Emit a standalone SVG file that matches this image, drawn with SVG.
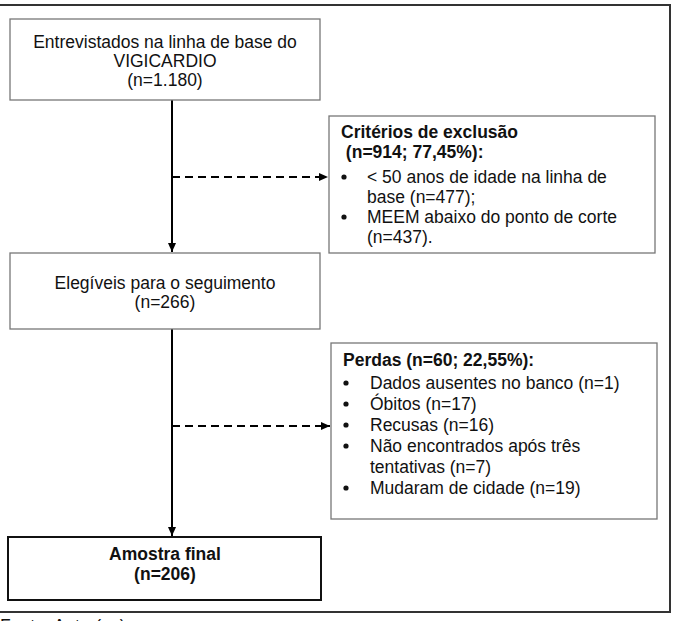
<svg xmlns="http://www.w3.org/2000/svg" width="674" height="621" viewBox="0 0 674 621">
<defs>
<marker id="ah" markerWidth="10" markerHeight="10" refX="9" refY="5" orient="auto" markerUnits="userSpaceOnUse">
<path d="M0,1 L9,5 L0,9 Z" fill="#000"/>
</marker>
<style>
text{font-family:"Liberation Sans",Arial,sans-serif;font-size:17.5px;fill:#111}
.c{text-anchor:middle}
.b{font-weight:bold}
.box{fill:#fff;stroke:#777;stroke-width:1.3}
.fin{fill:#fff;stroke:#111;stroke-width:2}
.ln{stroke:#000;stroke-width:2;fill:none}
.dash{stroke:#000;stroke-width:2;fill:none;stroke-dasharray:8 5}
</style>
</defs>
<rect width="674" height="621" fill="#fff"/>
<path d="M0,5 H670 V612 H0" fill="none" stroke="#333" stroke-width="2"/>
<text x="0" y="632" font-size="15">Fonte: Autor(es).</text>

<g id="connectors">
<line class="ln" x1="172" y1="100" x2="172" y2="252" marker-end="url(#ah)"/>
<line class="dash" x1="172" y1="177" x2="328" y2="177" marker-end="url(#ah)"/>
<line class="ln" x1="172" y1="329" x2="172" y2="536" marker-end="url(#ah)"/>
<line class="dash" x1="172" y1="426" x2="330" y2="426" marker-end="url(#ah)"/>
</g>

<g id="n1">
<rect class="box" x="10" y="19" width="310" height="81"/>
<text class="c" x="165" y="48">Entrevistados na linha de base do</text>
<text class="c" x="165" y="67">VIGICARDIO</text>
<text class="c" x="165" y="86">(n=1.180)</text>
</g>

<g id="n2">
<rect class="box" x="329" y="116" width="326" height="137"/>
<text class="b" x="341" y="138">Critérios de exclusão</text>
<text class="b" x="341" y="158" xml:space="preserve"> (n=914; 77,45%):</text>
<circle cx="344" cy="177" r="2.6" fill="#111"/>
<text x="367" y="183">&lt; 50 anos de idade na linha de</text>
<text x="367" y="203">base (n=477);</text>
<circle cx="344" cy="217" r="2.6" fill="#111"/>
<text x="367" y="223">MEEM abaixo do ponto de corte</text>
<text x="367" y="243">(n=437).</text>
</g>

<g id="n3">
<rect class="box" x="10" y="253" width="310" height="76"/>
<text class="c" x="165" y="289">Elegíveis para o seguimento</text>
<text class="c" x="165" y="308">(n=266)</text>
</g>

<g id="n4">
<rect class="box" x="331" y="343" width="326" height="176"/>
<text class="b" x="343" y="366">Perdas (n=60; 22,55%):</text>
<circle cx="346" cy="383" r="2.6" fill="#111"/>
<text x="370" y="389">Dados ausentes no banco (n=1)</text>
<circle cx="346" cy="404" r="2.6" fill="#111"/>
<text x="370" y="410">Óbitos (n=17)</text>
<circle cx="346" cy="425" r="2.6" fill="#111"/>
<text x="370" y="431">Recusas (n=16)</text>
<circle cx="346" cy="446" r="2.6" fill="#111"/>
<text x="370" y="452">Não encontrados após três</text>
<text x="370" y="473">tentativas (n=7)</text>
<circle cx="346" cy="488" r="2.6" fill="#111"/>
<text x="370" y="494">Mudaram de cidade (n=19)</text>
</g>

<g id="n5">
<rect class="fin" x="8" y="537" width="313" height="63"/>
<text class="c b" x="165" y="560">Amostra final</text>
<text class="c b" x="165" y="580">(n=206)</text>
</g>
</svg>
